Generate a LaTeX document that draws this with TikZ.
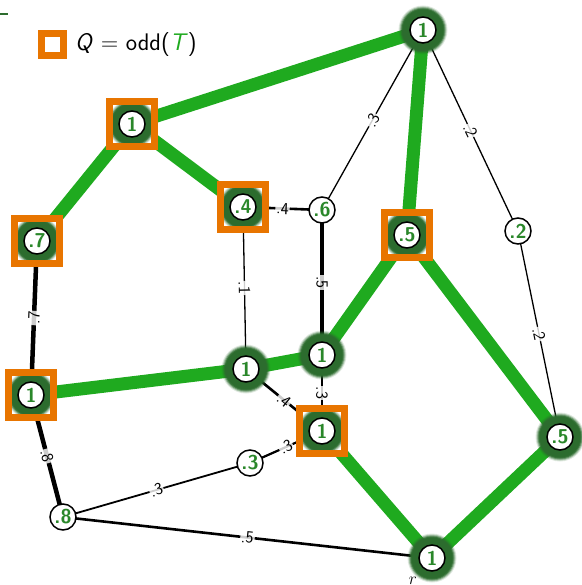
\documentclass[tikz,border=0pt]{standalone}
\usepackage{fontspec}
\pgfdeclarelayer{edges}
\pgfdeclarelayer{halo}
\pgfsetlayers{edges,halo,main}
\definecolor{tgreen}{RGB}{31,170,31}
\definecolor{glowc}{RGB}{44,108,46}
\definecolor{vgreen}{RGB}{42,135,42}
\definecolor{qorange}{RGB}{232,117,0}
% soft dark-green halo around a vertex of the tree
\newcommand\vhalo[1]{%
  \foreach \r/\o in {24.5/.15,23.5/.3,22.5/.5,21.5/.8,20.5/1}{%
    \fill[glowc,opacity=\o] (#1.center) circle (\r pt);}}
% orange frame marking a vertex of Q, halo kept inside the frame
\newcommand\qbox[1]{%
  \begin{scope}
    \fill[white] ([shift={(-19pt,-19pt)}]#1.center) rectangle ([shift={(19pt,19pt)}]#1.center);
    \clip ([shift={(-19pt,-19pt)}]#1.center) rectangle ([shift={(19pt,19pt)}]#1.center);
    \vhalo{#1}
  \end{scope}
  \draw[qorange,line width=7pt] ([shift={(-22.5pt,-22.5pt)}]#1.center) rectangle ([shift={(22.5pt,22.5pt)}]#1.center);}
\begin{document}
\begin{tikzpicture}[x=1pt,y=-1pt,
  vtx/.style={circle,draw=black,line width=1.5pt,fill=white,minimum size=26pt,inner sep=0pt,
    text=vgreen,font=\sffamily\bfseries\fontsize{20}{20}\selectfont},
  tree/.style={draw=tgreen,line width=13pt},
  wt/.style={font=\sffamily\fontsize{17}{17}\selectfont,sloped,fill=white,fill opacity=.8,
    text opacity=1,inner sep=1pt,midway},
  thin/.style={draw=black,line width=1.3pt},
  mid/.style={draw=black,line width=2.6pt},
  heavy/.style={draw=black,line width=4.5pt}]
\useasboundingbox (0,0) rectangle (581,585);

% vertices
\node[vtx] (A) at (423,30) {1};
\node[vtx] (B) at (132,124) {1};
\node[vtx] (C) at (243,207) {.4};
\node[vtx] (D) at (322,210) {.6};
\node[vtx] (E) at (407,235) {.5};
\node[vtx] (F) at (518,231) {.2};
\node[vtx] (G) at (37,241) {.7};
\node[vtx] (H) at (246,369) {1};
\node[vtx] (I) at (322,355) {1};
\node[vtx] (J) at (31,395) {1};
\node[vtx] (K) at (322,431) {1};
\node[vtx] (L) at (250,463) {.3};
\node[vtx] (M) at (560,437) {.5};
\node[vtx] (N) at (63,517) {.8};
\node[vtx] (O) at (432,558) {1};
\node[font=\fontsize{17}{17}\selectfont] (rlab) at (413,581) {$r$};

% legend
\node[draw=qorange,line width=7pt,minimum size=22pt,inner sep=0pt] (key) at (52.5,44.5) {};
\node[anchor=west,font=\sffamily\fontsize{24}{24}\selectfont,inner sep=0pt] (keytext) at (75,45)
  {\textit{Q} = odd(\textcolor{tgreen}{\textit{T}})};
\draw[glowc,line width=2pt] (0,14) -- (8,14);

\begin{pgfonlayer}{edges}
  % weighted edges of the graph
  \draw[thin]  (A.center) -- node[wt] {.3} (D.center);
  \draw[thin]  (A.center) -- node[wt] {.2} (F.center);
  \draw[thin]  (F.center) -- node[wt] {.2} (M.center);
  \draw[mid]   (C.center) -- node[wt] {.4} (D.center);
  \draw[thin]  (C.center) -- node[wt] {.1} (H.center);
  \draw[mid,line width=3.2pt] (D.center) -- node[wt] {.5} (I.center);
  \draw[heavy] (G.center) -- node[wt] {.7} (J.center);
  \draw[heavy] (J.center) -- node[wt] {.8} (N.center);
  \draw[thin]  (I.center) -- node[wt] {.3} (K.center);
  \draw[mid]   (H.center) -- node[wt] {.4} (K.center);
  \draw[mid,line width=2.2pt] (L.center) -- node[wt] {.3} (K.center);
  \draw[mid,line width=1.8pt] (N.center) -- node[wt] {.3} (L.center);
  \draw[mid]   (N.center) -- node[wt] {.5} (O.center);
  % the tree T
  \draw[tree] (A.center) -- (B.center);
  \draw[tree] (B.center) -- (G.center);
  \draw[tree] (B.center) -- (C.center);
  \draw[tree] (A.center) -- (E.center);
  \draw[tree] (E.center) -- (I.center);
  \draw[tree] (E.center) -- (M.center);
  \draw[tree] (I.center) -- (H.center);
  \draw[tree] (H.center) -- (J.center);
  \draw[tree] (K.center) -- (O.center);
  \draw[tree] (M.center) -- (O.center);
\end{pgfonlayer}

\begin{pgfonlayer}{halo}
  \foreach \v in {A,H,I,M,O}{\vhalo{\v}}
  \foreach \v in {B,C,E,G,J,K}{\qbox{\v}}
\end{pgfonlayer}
\end{tikzpicture}
\end{document}
